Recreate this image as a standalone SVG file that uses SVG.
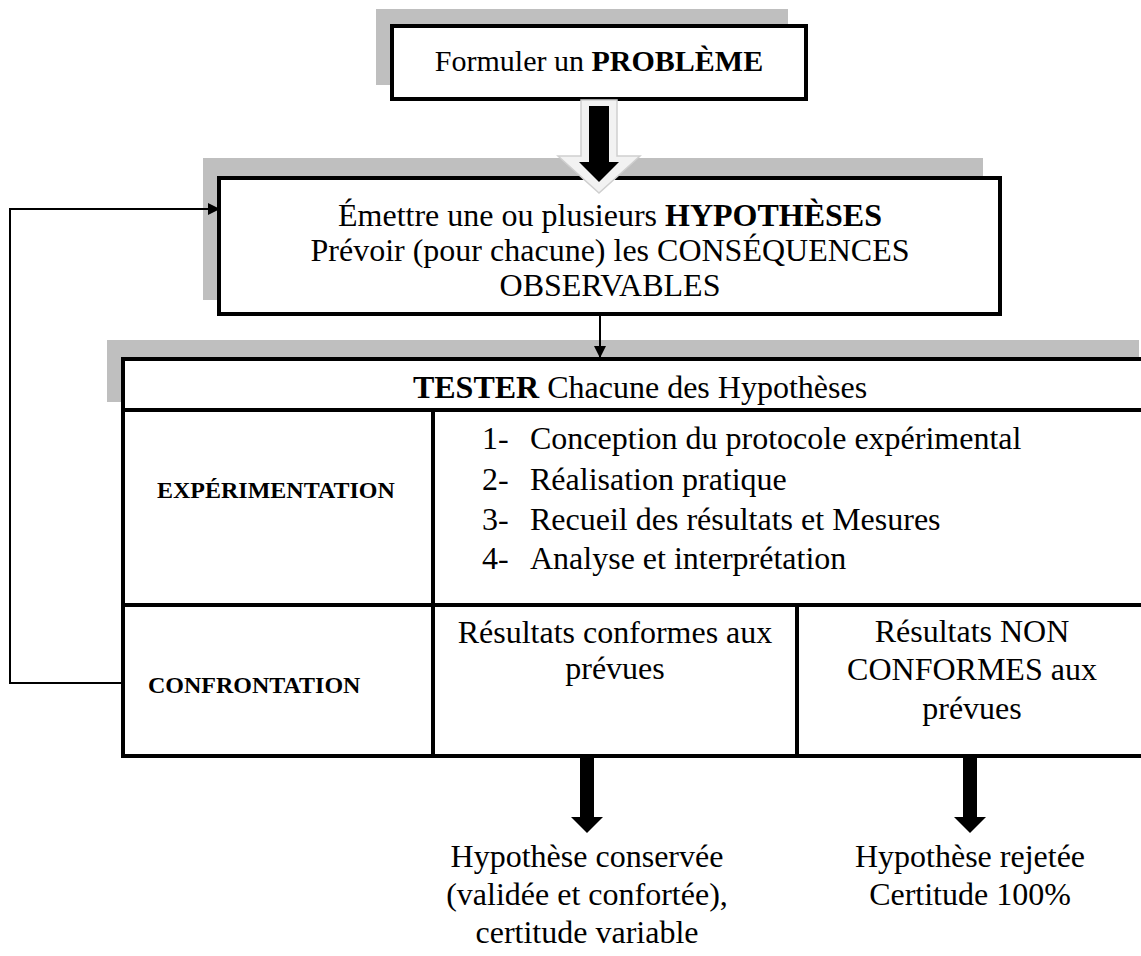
<svg xmlns="http://www.w3.org/2000/svg" width="1141" height="956" viewBox="0 0 1141 956">
<style>
text{font-family:"Liberation Serif","Times New Roman",serif;fill:#000}
.t{font-size:32px}
.s{font-size:24px;font-weight:bold}
.sh{fill:#bfbfbf}
.bx{fill:#fff;stroke:#000;stroke-width:4}
.ln{stroke:#000;stroke-width:4;fill:none}
.c{stroke:#000;stroke-width:2;fill:none}
</style>
<defs>
<marker id="ah" markerWidth="12" markerHeight="12" refX="11" refY="6" orient="auto" markerUnits="userSpaceOnUse">
<path d="M0,0 L12,6 L0,12 z" fill="#000"/>
</marker>
</defs>
<rect width="1141" height="956" fill="#fff"/>

<g id="probleme">
<rect class="sh" x="376" y="9" width="412" height="76"/>
<rect class="bx" x="392" y="26" width="414" height="73"/>
<text x="599" y="71" text-anchor="middle" font-size="30">Formuler un <tspan font-weight="bold">PROBLÈME</tspan></text>
</g>

<g id="hypotheses">
<rect class="sh" x="203" y="158" width="780" height="142"/>
<rect class="bx" x="219" y="178" width="781" height="136"/>
<text class="t" x="610" y="226" text-anchor="middle">Émettre une ou plusieurs <tspan font-weight="bold">HYPOTHÈSES</tspan></text>
<text class="t" x="610" y="261" text-anchor="middle">Prévoir (pour chacune) les CONSÉQUENCES</text>
<text class="t" x="610" y="296" text-anchor="middle">OBSERVABLES</text>
</g>

<g id="tester">
<rect class="sh" x="107" y="340" width="1032" height="62"/>
<rect fill="#fff" x="123" y="359" width="1030" height="397"/>
<path class="ln" d="M1141,359 H123 V756 H1141 M123,410 H1141 M123,605 H1141 M433,410 V756 M797,605 V756"/>
<text class="t" x="640" y="398" text-anchor="middle"><tspan font-weight="bold">TESTER</tspan> Chacune des Hypothèses</text>
</g>

<g id="experimentation">
<text class="s" x="157" y="498">EXPÉRIMENTATION</text>
</g>
<g id="etapes">
<text class="t" x="482" y="449">1-</text><text class="t" x="530" y="449">Conception du protocole expérimental</text>
<text class="t" x="482" y="490">2-</text><text class="t" x="530" y="490">Réalisation pratique</text>
<text class="t" x="482" y="530">3-</text><text class="t" x="530" y="530">Recueil des résultats et Mesures</text>
<text class="t" x="482" y="569">4-</text><text class="t" x="530" y="569">Analyse et interprétation</text>
</g>
<g id="confrontation">
<text class="s" x="148" y="693">CONFRONTATION</text>
</g>
<g id="conformes">
<text class="t" x="615" y="643" text-anchor="middle">Résultats conformes aux</text>
<text class="t" x="615" y="679" text-anchor="middle">prévues</text>
</g>
<g id="nonconformes">
<text class="t" x="972" y="642" text-anchor="middle">Résultats NON</text>
<text class="t" x="972" y="680" text-anchor="middle">CONFORMES aux</text>
<text class="t" x="972" y="719" text-anchor="middle">prévues</text>
</g>
<g id="conservee">
<text class="t" x="587" y="867" text-anchor="middle">Hypothèse conservée</text>
<text class="t" x="587" y="905" text-anchor="middle">(validée et confortée),</text>
<text class="t" x="587" y="943" text-anchor="middle">certitude variable</text>
</g>
<g id="rejetee">
<text class="t" x="970" y="867" text-anchor="middle">Hypothèse rejetée</text>
<text class="t" x="970" y="905" text-anchor="middle">Certitude 100%</text>
</g>

<g id="connectors">
<polygon points="581,100 617,100 617,156 640,156 599,193 558,156 581,156" fill="#f2f2f2" stroke="#cfcfcf" stroke-width="1.5"/>
<polygon points="589,106 609,106 609,162 619,162 599,182 579,162 589,162" fill="#000"/>
<path class="c" d="M123,683 H10 V209 H219" marker-end="url(#ah)"/>
<path class="c" d="M600,315 V357" marker-end="url(#ah)"/>
<polygon points="580,758 594,758 594,817 603,817 587,833 571,817 580,817" fill="#000"/>
<polygon points="963,758 977,758 977,817 986,817 970,833 954,817 963,817" fill="#000"/>
</g>
</svg>
